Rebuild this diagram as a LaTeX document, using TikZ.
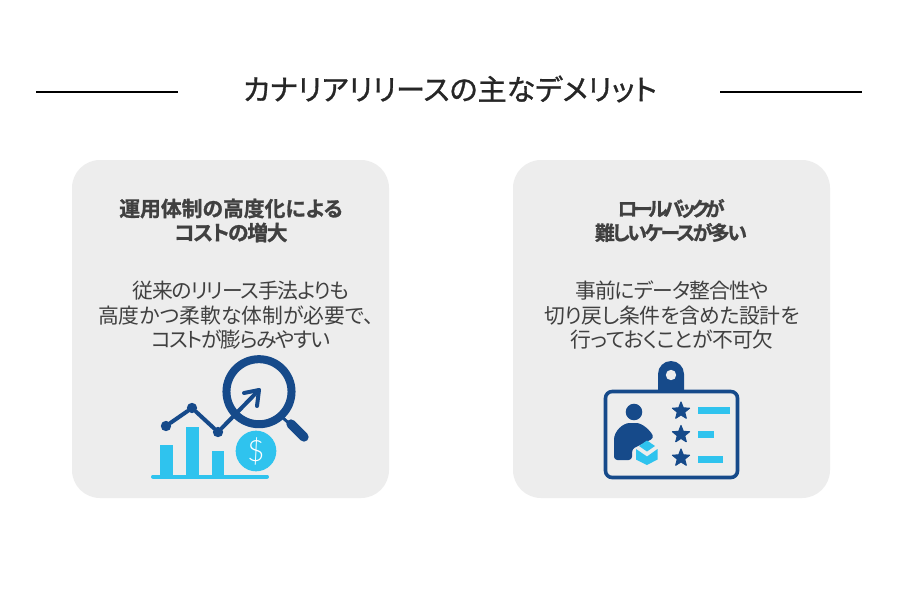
\documentclass[tikz,border=0pt]{standalone}
\usepackage{fontspec}
\setmainfont{Lato Light}
\newfontfamily\jpreg[RawFeature=+palt]{Noto Sans CJK JP}
\newfontfamily\jpmid[RawFeature=+palt,FakeBold=1.0]{Noto Sans CJK JP}
\newfontfamily\jpbold[RawFeature=+palt,FakeBold=1.0]{Noto Sans CJK JP Bold}
\definecolor{card}{HTML}{EDEDED}
\definecolor{navy}{HTML}{164A8A}
\definecolor{sky}{HTML}{2FC3EE}
\definecolor{ink}{HTML}{404040}
\definecolor{titleink}{HTML}{262626}
\newcommand{\track}[1]{\addfontfeature{LetterSpace=#1}}
\tikzset{
  x=0.75pt,y=-0.75pt,
  cardbox/.style={fill=card,rounded corners=21pt},
  titletext/.style={font=\jpmid\fontsize{21.8}{24}\selectfont,text=titleink,inner sep=0pt},
  headtext/.style={font=\jpbold\fontsize{15.6}{19}\selectfont,text=ink,inner sep=0pt},
  tightheadtext/.style={font=\jpbold\fontsize{14.8}{19}\selectfont,text=ink,inner sep=0pt},
  bodytext/.style={font=\jpreg\fontsize{15.6}{19}\selectfont,text=ink,inner sep=0pt},
  rule/.style={draw=black,line width=1.1pt},
  navyline/.style={draw=navy,line width=3pt,line cap=round,line join=round},
  starmark/.style={star,star points=5,star point ratio=2.3,fill=navy,draw=navy,line width=.8pt,line join=round,minimum size=13.5pt,inner sep=0pt},
  dotmark/.style={circle,fill=navy,minimum size=7.8pt,inner sep=0pt},
}
\usetikzlibrary{shapes.geometric}
\begin{document}
\begin{tikzpicture}
\useasboundingbox[fill=white] (0,0) rectangle (901,600);
% title
\node[titletext] (title) at (450,89) {カナリアリリースの主なデメリット};
\draw[rule] (36,92) -- (178,92);
\draw[rule] (720,92) -- (861.5,92);
% cards
\path[cardbox] (72,160) rectangle (389,498);
\path[cardbox] (513,160) rectangle (830,498);
% left text
\node[headtext] (lh1) at (231,208.5) {運用体制の高度化による};
\node[headtext] (lh2) at (231,232.5) {\track{-6}コストの増大};
\node[bodytext] (lb1) at (241,290.5) {\track{-5.7}従来のリリース手法よりも};
\node[bodytext] (lb2) at (236,315.5) {高度かつ柔軟な体制が必要で、};
\node[bodytext] (lb3) at (241,339.5) {\track{-6.7}コストが膨らみやすい};
% right text
\node[tightheadtext] (rh1) at (671,208.5) {\track{-21}ロールバックが};
\node[tightheadtext] (rh2) at (671,232.5) {\track{-12}難しいケースが多い};
\node[bodytext] (rb1) at (672,290.5) {\track{-4.3}事前にデータ整合性や};
\node[bodytext] (rb2) at (672,315.5) {\track{-1.8}切り戻し条件を含めた設計を};
\node[bodytext] (rb3) at (672,339.5) {\track{-2.6}行っておくことが不可欠};
% chart icon
\fill[sky] (160,445) rectangle (173,476);
\fill[sky] (186,427) rectangle (199,476);
\fill[sky] (212,451) rectangle (224,476);
\draw[sky,line width=3pt,line cap=round] (153,476.5) -- (267,476.5);
\node[circle,fill=sky,minimum size=30.5pt,inner sep=0pt,text=white,font=\fontsize{22}{22}\selectfont] (dollar) at (256,451) {\$};
\node[dotmark] (p1) at (166,426) {};
\node[dotmark] (p2) at (192,408) {};
\node[dotmark] (p3) at (218,432) {};
\coordinate (p4) at (259,390);
\draw[navyline] (p1) -- (p2) -- (p3) -- (p4);
\draw[navyline] (244,393) -- (p4) -- (257,406);
\draw[navy,line width=6pt] (259,391.7) circle[radius=24.4pt];
\draw[navy,line width=2.2pt] (283,418) -- (291,425);
\draw[navy,line width=7pt,line cap=round] (291,424) -- (304,437);
% badge icon
\fill[navy] (658,391) -- (658,374) arc[start angle=180,end angle=0,radius=9.75pt] -- (684,391) -- cycle;
\fill[card] (671,375) circle[radius=3.9pt];
\draw[navy,line width=2.7pt,rounded corners=5pt] (605.5,391.5) rectangle (737.5,477.5);
\fill[navy] (634,412) circle[radius=6.2pt];
\fill[navy,rounded corners=2.5pt] (614,460) -- (614,443) .. controls (614,431) and (623,423) .. (633,423) .. controls (642,423) and (650,430) .. (654,438) -- (632,449) -- (632,460) -- cycle;
\fill[sky] (647,440.5) -- (655,446) -- (647,451.5) -- (639,446) -- cycle;
\fill[sky] (636,449) -- (647,456.5) -- (657.5,449) -- (657.5,459.5) -- (647,465) -- (636,459.5) -- cycle;
\node[starmark] (s1) at (681,411) {};
\node[starmark] (s2) at (681,434.5) {};
\node[starmark] (s3) at (681,458) {};
\fill[sky] (698,407) rectangle (730,414);
\fill[sky] (698,431) rectangle (714,438);
\fill[sky] (698,456) rectangle (723,462.5);
\end{tikzpicture}
\end{document}
